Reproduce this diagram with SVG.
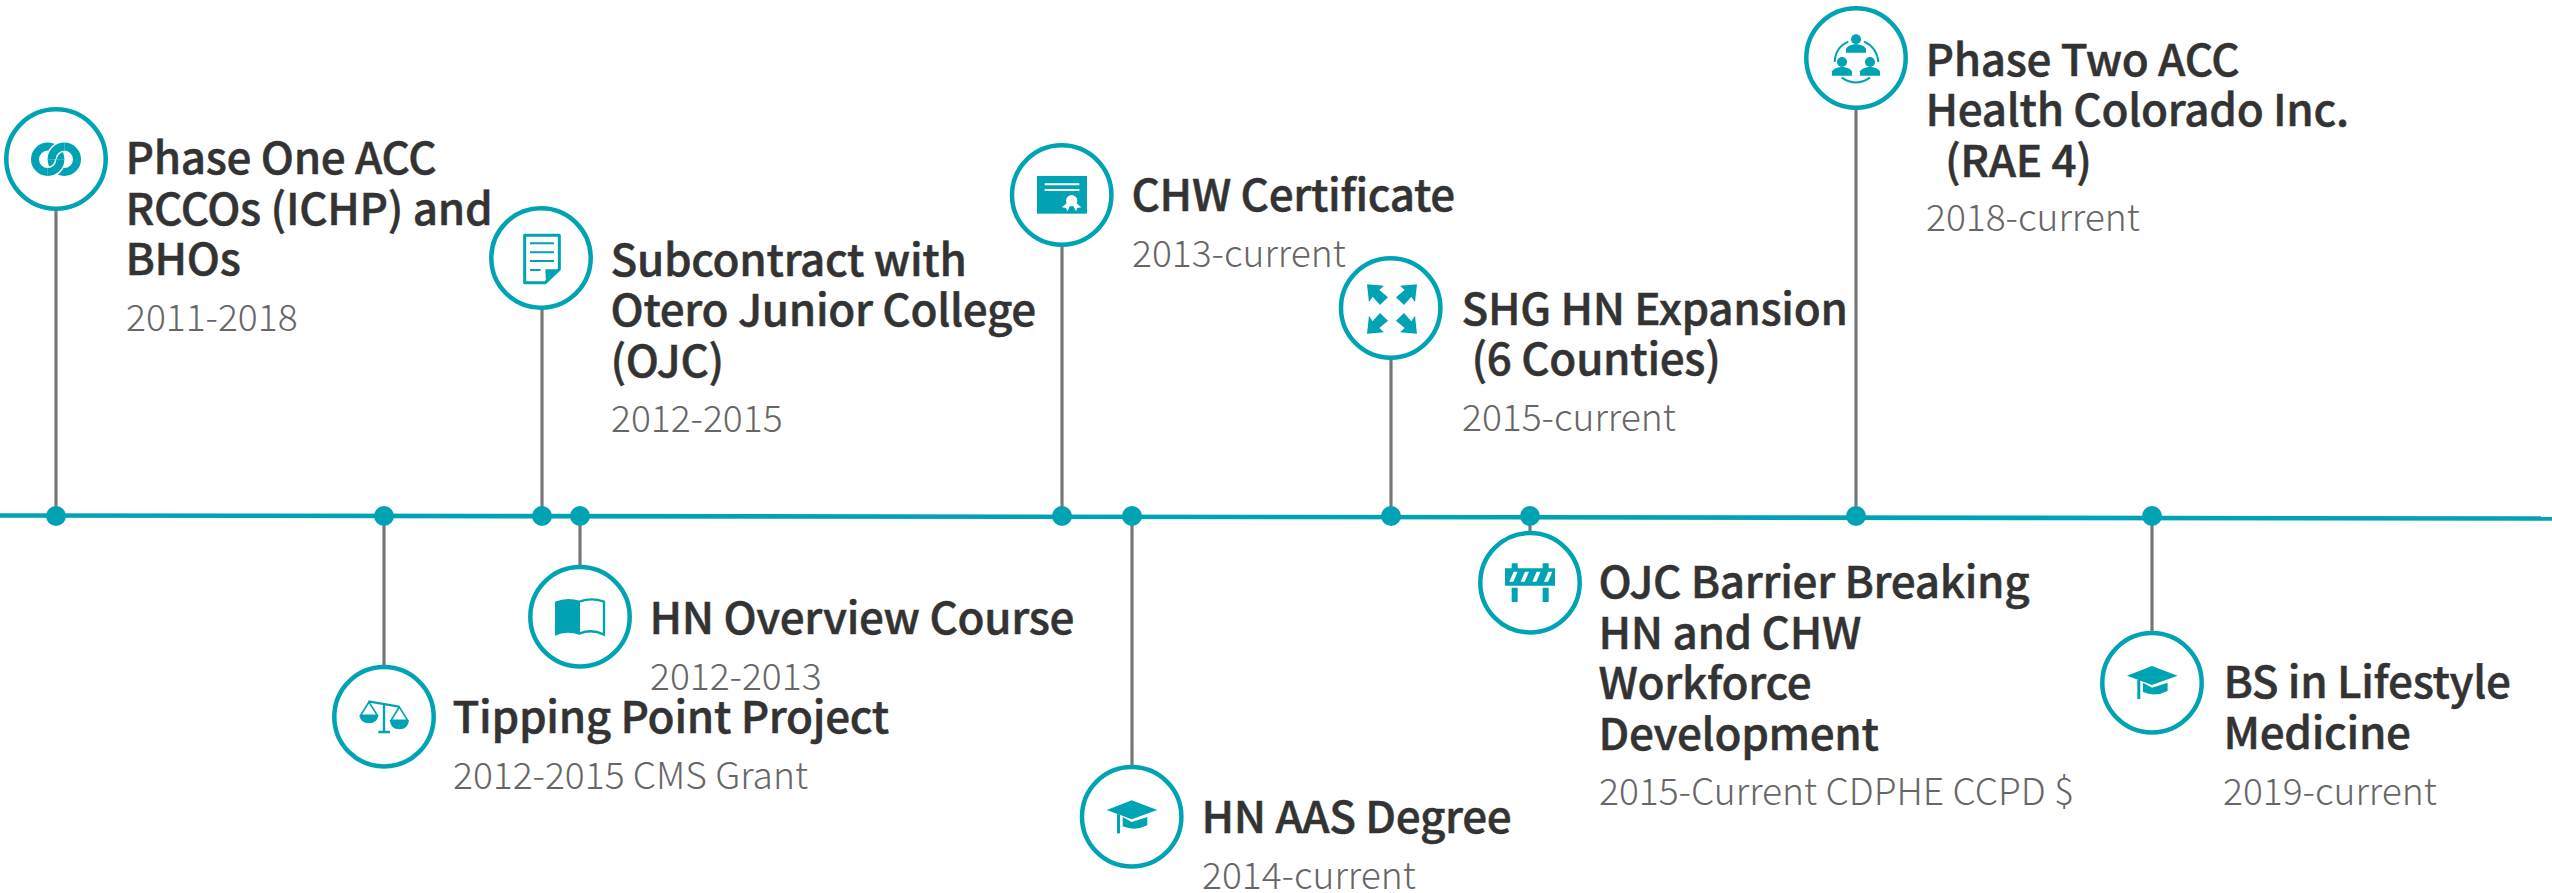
<svg xmlns="http://www.w3.org/2000/svg" xmlns:xlink="http://www.w3.org/1999/xlink" width="2552" height="893" viewBox="0 0 2552 893">
<style>
text{font-family:"Noto Sans CJK SC","Noto Sans",sans-serif}
.t{font-size:44px;font-weight:500;fill:#333;stroke:#333;stroke-width:.5px;letter-spacing:-.3px}
.d{font-size:37.2px;font-weight:300;fill:#666}
.ring{fill:#fff;stroke:#00a3b4;stroke-width:4.5}
.dot{fill:#00a3b4}
.c{stroke:#777;stroke-width:3.2;fill:none}
.i{fill:#00a3b4}
.w{fill:#fff}
</style>
<defs>
<g id="cap">
<path class="i" d="M110,180L185,151L262,180L185,208Z"/>
<rect class="i" x="141" y="193" width="9" height="57"/>
<path class="i" d="M158,201L185,216L232,201V226Q195,245 158,229Z"/>
</g>
</defs>
<rect width="2552" height="893" fill="#fff"/>
<g id="connectors">
<path d="M0,515.5L2552,518.5" fill="none" stroke="#00a3b4" stroke-width="4.6"/>
<path class="c" d="M56,516V205"/>
<path class="c" d="M384,516V670"/>
<path class="c" d="M542,516V305"/>
<path class="c" d="M580,516V570"/>
<path class="c" d="M1062,516V240"/>
<path class="c" d="M1132,516V770"/>
<path class="c" d="M1391,516V355"/>
<path class="c" d="M1530,516V535"/>
<path class="c" d="M1856,516V105"/>
<path class="c" d="M2152,516V635"/>
<circle class="dot" cx="56" cy="516" r="10"/>
<circle class="dot" cx="384" cy="516" r="10"/>
<circle class="dot" cx="542" cy="516" r="10"/>
<circle class="dot" cx="580" cy="516" r="10"/>
<circle class="dot" cx="1062" cy="516" r="10"/>
<circle class="dot" cx="1132" cy="516" r="10"/>
<circle class="dot" cx="1391" cy="516" r="10"/>
<circle class="dot" cx="1530" cy="516" r="10"/>
<circle class="dot" cx="1856" cy="516" r="10"/>
<circle class="dot" cx="2152" cy="516" r="10"/>
</g>
<g id="n1">
<circle class="ring" cx="56" cy="159" r="49.7"/>
<g transform="translate(56,159.3)" fill="none">
<circle cx="-8.3" cy="0" r="12.7" stroke="#00a3b4" stroke-width="8"/>
<circle cx="8.3" cy="0" r="12.7" stroke="#00a3b4" stroke-width="8"/>
<path d="M8.3,-12.7A12.7,12.7 0 0 0 -4.4,0" stroke="#fff" stroke-width="11"/>
<path d="M8.3,-12.7A12.7,12.7 0 0 0 -4.4,0" stroke="#00a3b4" stroke-width="8"/>
<path d="M-8.3,12.7A12.7,12.7 0 0 0 4.4,0" stroke="#fff" stroke-width="11"/>
<path d="M-8.3,12.7A12.7,12.7 0 0 0 4.4,0" stroke="#00a3b4" stroke-width="8"/>
</g>
<text class="t" x="125.5" y="174">Phase One ACC</text>
<text class="t" x="125.5" y="225">RCCOs (ICHP) and</text>
<text class="t" x="125.5" y="275">BHOs</text>
<text class="d" x="126" y="331">2011-2018</text>
</g>
<g id="n2">
<circle class="ring" cx="541" cy="258" r="49.7"/>
<g transform="translate(470,190) scale(.3333)">
<path d="M164,136H268V238L226,278H164Z" fill="#fff" stroke="#00a3b4" stroke-width="9" stroke-linejoin="round"/>
<path d="M180,160H252M180,187H252M180,213H252M180,240H212" fill="none" stroke="#00a3b4" stroke-width="6"/>
<path class="i" d="M226,238H268L228,278Z"/>
</g>
<text class="t" x="610.5" y="276">Subcontract with</text>
<text class="t" x="610.5" y="326">Otero Junior College</text>
<text class="t" x="610.5" y="377">(OJC)</text>
<text class="d" x="611" y="432">2012-2015</text>
</g>
<g id="n3">
<circle class="ring" cx="1061.7" cy="195" r="49.7"/>
<g transform="translate(990,130) scale(.3333)">
<rect class="i" x="141" y="138" width="150" height="113"/>
<path d="M164,163H268M164,180H268" fill="none" stroke="#fff" stroke-width="6"/>
<circle class="w" cx="245" cy="212" r="17"/>
<path class="w" d="M216,232L232,218L240,228L232,244L228,234ZM274,232L258,218L250,228L258,244L262,234Z"/>
</g>
<text class="t" x="1131.5" y="211">CHW Certificate</text>
<text class="d" x="1132" y="267">2013-current</text>
</g>
<g id="n4">
<circle class="ring" cx="1390.7" cy="308" r="49.7"/>
<g transform="translate(1320,240) scale(.3333)">
<path class="i" d="M141,133L192,137L178,150L204,172L180,195L158,170L147,187Z"/>
<path class="i" d="M291,133L240,137L254,150L228,172L252,195L274,170L285,187Z"/>
<path class="i" d="M141,281L192,277L178,264L204,242L180,219L158,244L147,227Z"/>
<path class="i" d="M291,281L240,277L254,264L228,242L252,219L274,244L285,227Z"/>
</g>
<text class="t" x="1461.5" y="325">SHG HN Expansion</text>
<text class="t" x="1471.5" y="375">(6 Counties)</text>
<text class="d" x="1462" y="431">2015-current</text>
</g>
<g id="n5">
<circle class="ring" cx="1856" cy="58" r="49.7"/>
<g transform="translate(1790,0) scale(.3333)">
<circle class="i" cx="198" cy="118" r="15"/>
<path class="i" d="M168,158V146Q172,136 198,132Q224,136 228,146V158Z"/>
<circle class="i" cx="156" cy="186" r="15"/>
<path class="i" d="M126,227V214Q130,204 156,200Q182,204 186,214V227Z"/>
<circle class="i" cx="240" cy="186" r="15"/>
<path class="i" d="M210,227V214Q214,204 240,200Q266,204 270,214V227Z"/>
<path d="M134,186Q136,142 175,125M222,125Q261,142 265,186M155,233Q198,262 240,233" fill="none" stroke="#00a3b4" stroke-width="6"/>
</g>
<text class="t" x="1925.5" y="76">Phase Two ACC</text>
<text class="t" x="1925.5" y="126">Health Colorado Inc.</text>
<text class="t" x="1945" y="177">(RAE 4)</text>
<text class="d" x="1926" y="231">2018-current</text>
</g>
<g id="n6">
<circle class="ring" cx="384" cy="716.7" r="49.7"/>
<g transform="translate(320,650) scale(.3333)">
<path d="M145,154L237,170M192,162V245M175,246H210" fill="none" stroke="#00a3b4" stroke-width="7"/>
<path d="M147,156L122,196H172ZM238,171L213,211H263Z" fill="none" stroke="#00a3b4" stroke-width="5"/>
<path class="i" d="M118,196H175Q172,220 147,220Q122,220 118,196ZM209,211H267Q264,238 238,238Q212,238 209,211Z"/>
</g>
<text class="t" x="452.5" y="733">Tipping Point Project</text>
<text class="d" x="453" y="789">2012-2015 CMS Grant</text>
</g>
<g id="n7">
<circle class="ring" cx="580" cy="616.7" r="49.7"/>
<g transform="translate(520,550) scale(.3333)">
<path class="i" d="M105,155Q140,140 180,152V255Q140,240 105,257Z"/>
<path d="M180,154Q215,142 252,155V254Q215,236 180,250" fill="none" stroke="#00a3b4" stroke-width="7"/>
</g>
<text class="t" x="649.5" y="634">HN Overview Course</text>
<text class="d" x="650" y="690">2012-2013</text>
</g>
<g id="n8">
<circle class="ring" cx="1530" cy="582.7" r="49.7"/>
<g transform="translate(1470,510) scale(.3333)">
<path class="i" d="M105,175H125V160H143V175H218V160H236V175H255V227H105ZM125,233H143V276H125ZM218,233H236V276H218Z"/>
<path class="w" d="M118,215L131,185H143L130,215ZM152,215L165,185H177L164,215ZM187,215L200,185H212L199,215ZM222,215L235,185H247L234,215Z"/>
</g>
<text class="t" x="1598.5" y="598">OJC Barrier Breaking</text>
<text class="t" x="1598.5" y="649">HN and CHW</text>
<text class="t" x="1598.5" y="699">Workforce</text>
<text class="t" x="1598.5" y="750">Development</text>
<text class="d" x="1599" y="805">2015-Current CDPHE CCPD $</text>
</g>
<g id="n9">
<circle class="ring" cx="1131.7" cy="816.7" r="49.7"/>
<use href="#cap" xlink:href="#cap" transform="translate(1070,750) scale(.3333)"/>
<text class="t" x="1201.5" y="833">HN AAS Degree</text>
<text class="d" x="1202" y="889">2014-current</text>
</g>
<g id="n10">
<circle class="ring" cx="2152" cy="682.7" r="49.7"/>
<use href="#cap" xlink:href="#cap" transform="translate(2090.3,615.7) scale(.3333)"/>
<text class="t" x="2223.5" y="698">BS in Lifestyle</text>
<text class="t" x="2223.5" y="749">Medicine</text>
<text class="d" x="2223" y="805">2019-current</text>
</g>
</svg>
